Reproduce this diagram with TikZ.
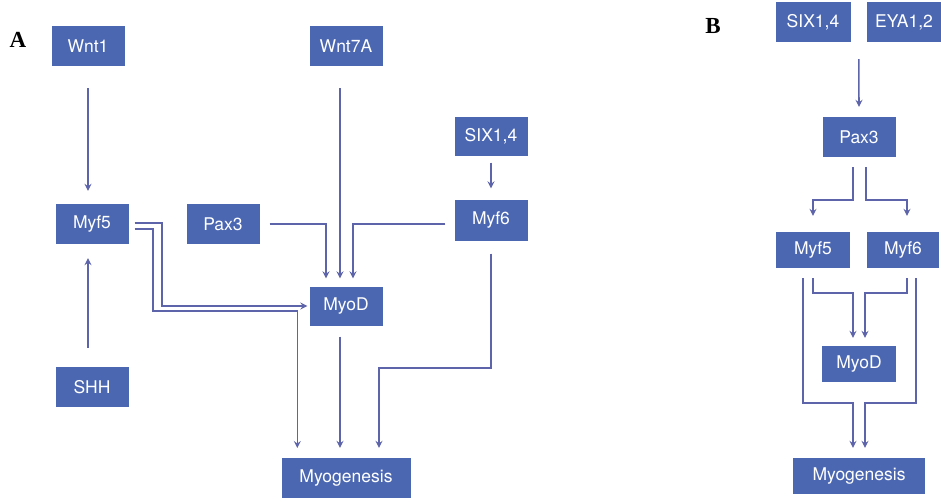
\documentclass[tikz,border=0pt]{standalone}
\usepackage{fontspec}
\setsansfont{TeX Gyre Heros}
\newfontfamily\labelfont{Liberation Serif}
\usetikzlibrary{calc,arrows.meta}
\definecolor{boxblue}{HTML}{4B67B1}
\definecolor{lineblue}{HTML}{5E64AA}
\tikzset{
	gene/.style={fill=boxblue, text=white, inner sep=0pt, minimum width=73pt, minimum height=40pt, font=\sffamily\fontsize{17.5}{18}\selectfont},
	geneb/.style={gene, minimum height=36pt},
	arr/.style={draw=lineblue, line width=1.6pt, -{Stealth[length=7pt,width=7pt,inset=2.5pt]}},
	link/.style={draw=lineblue, line width=1.6pt}
}

\begin{document}
\begin{tikzpicture}[x=1pt, y=-1pt]
		%%%%% START %%%%%
		\useasboundingbox (0,0) rectangle (941,501);
		
		%% panel A
		\node[font=\labelfont\bfseries\fontsize{23}{23}\selectfont] (labA) at (18, 40) {A};
		\node[gene] (wnt1) at (88, 46) {Wnt1};
		\node[gene] (myf5) at (92, 224) {Myf5};
		\node[gene] (shh) at (92, 387) {SHH};
		\node[gene] (pax3) at (223, 224) {Pax3};
		\node[gene] (wnt7a) at (346, 46) {Wnt7A};
		\node[gene, minimum height=39pt] (six) at (491, 136) {SIX1,4};
		\node[gene, minimum height=41pt] (myf6) at (491, 220) {Myf6};
		\node[gene, minimum height=39pt] (myod) at (346, 306) {MyoD};
		\node[gene, minimum width=129pt] (myogen) at (346, 478) {Myogenesis};
		
		\draw[arr, shorten <=22pt, shorten >=13pt] (wnt1.south) -- (wnt1.south |- myf5.north);
		\draw[arr, shorten <=19pt, shorten >=14pt] ([xshift=-4pt]shh.north) -- ([xshift=-4pt]myf5.south);
		\draw[arr, shorten <=7pt, shorten >=11pt] (six.south) -- (myf6.north);
		
		\draw[arr, shorten <=22pt, shorten >=8pt] ([xshift=-6pt]wnt7a.south) -- ([xshift=-6pt]myod.north);
		\draw[arr, shorten <=10pt, shorten >=8pt] (pax3.east) -| ([xshift=-20pt]myod.north);
		\draw[arr, shorten <=9pt, shorten >=8pt] ([yshift=-4pt]myf6.west) -| ([xshift=7pt]myod.north);
		
		\draw[arr, shorten >=2pt] ([xshift=6pt,yshift=1pt]myf5.east) -- ++(27,0) |- (myod.west);
		\draw[arr, shorten >=10pt] ([xshift=6pt,yshift=-5pt]myf5.east) -- ++(18,0) |- ($(myod.west)+(-12,5)$) -- ($(myod.west)+(-12,152)$);
		
		\draw[arr, shorten <=11pt, shorten >=10pt] ([xshift=-6pt]myod.south) -- ([xshift=-6pt]myogen.north);
		\draw[arr, shorten <=13pt, shorten >=10pt] (myf6.south) -- ++(0,127) -| ([xshift=33pt]myogen.north);
		
		%% panel B
		\node[font=\labelfont\bfseries\fontsize{23}{23}\selectfont] (labB) at (713, 26) {B};
		\node[gene, minimum width=75pt] (sixb) at (813, 22) {SIX1,4};
		\node[gene, minimum width=74pt] (eyab) at (904, 22) {EYA1,2};
		\node[gene] (pax3b) at (859, 137) {Pax3};
		\node[geneb, minimum width=74pt] (myf5b) at (813, 250) {Myf5};
		\node[geneb, minimum width=72pt] (myf6b) at (903, 250) {Myf6};
		\node[geneb, minimum width=74pt] (myodb) at (859, 364) {MyoD};
		\node[geneb, minimum width=132pt] (myogenb) at (859, 476) {Myogenesis};
		
		\draw[arr, shorten <=17pt, shorten >=10pt] ($(sixb.south east)!0.5!(eyab.south west)$) -- (pax3b.north);
		\draw[arr, shorten <=10pt, shorten >=16pt] ([xshift=-6pt]pax3b.south) -- ++(0,43) -| (myf5b.north);
		\draw[arr, shorten <=10pt, shorten >=16pt] ([xshift=7pt]pax3b.south) -- ++(0,43) -| ([xshift=4pt]myf6b.north);
		
		\draw[arr, shorten <=10pt, shorten >=8pt] (myf5b.south) -- ++(0,25) -| ([xshift=-6pt]myodb.north);
		\draw[arr, shorten <=10pt, shorten >=8pt] ([xshift=4pt]myf6b.south) -- ++(0,25) -| ([xshift=6pt]myodb.north);
		\draw[arr, shorten <=10pt, shorten >=10pt] ([xshift=-10pt]myf5b.south) -- ++(0,135) -| ([xshift=-6pt]myogenb.north);
		\draw[arr, shorten <=10pt, shorten >=10pt] ([xshift=13pt]myf6b.south) -- ++(0,135) -| ([xshift=6pt]myogenb.north);
		%%%%% END %%%%%
	\end{tikzpicture}
\end{document}
